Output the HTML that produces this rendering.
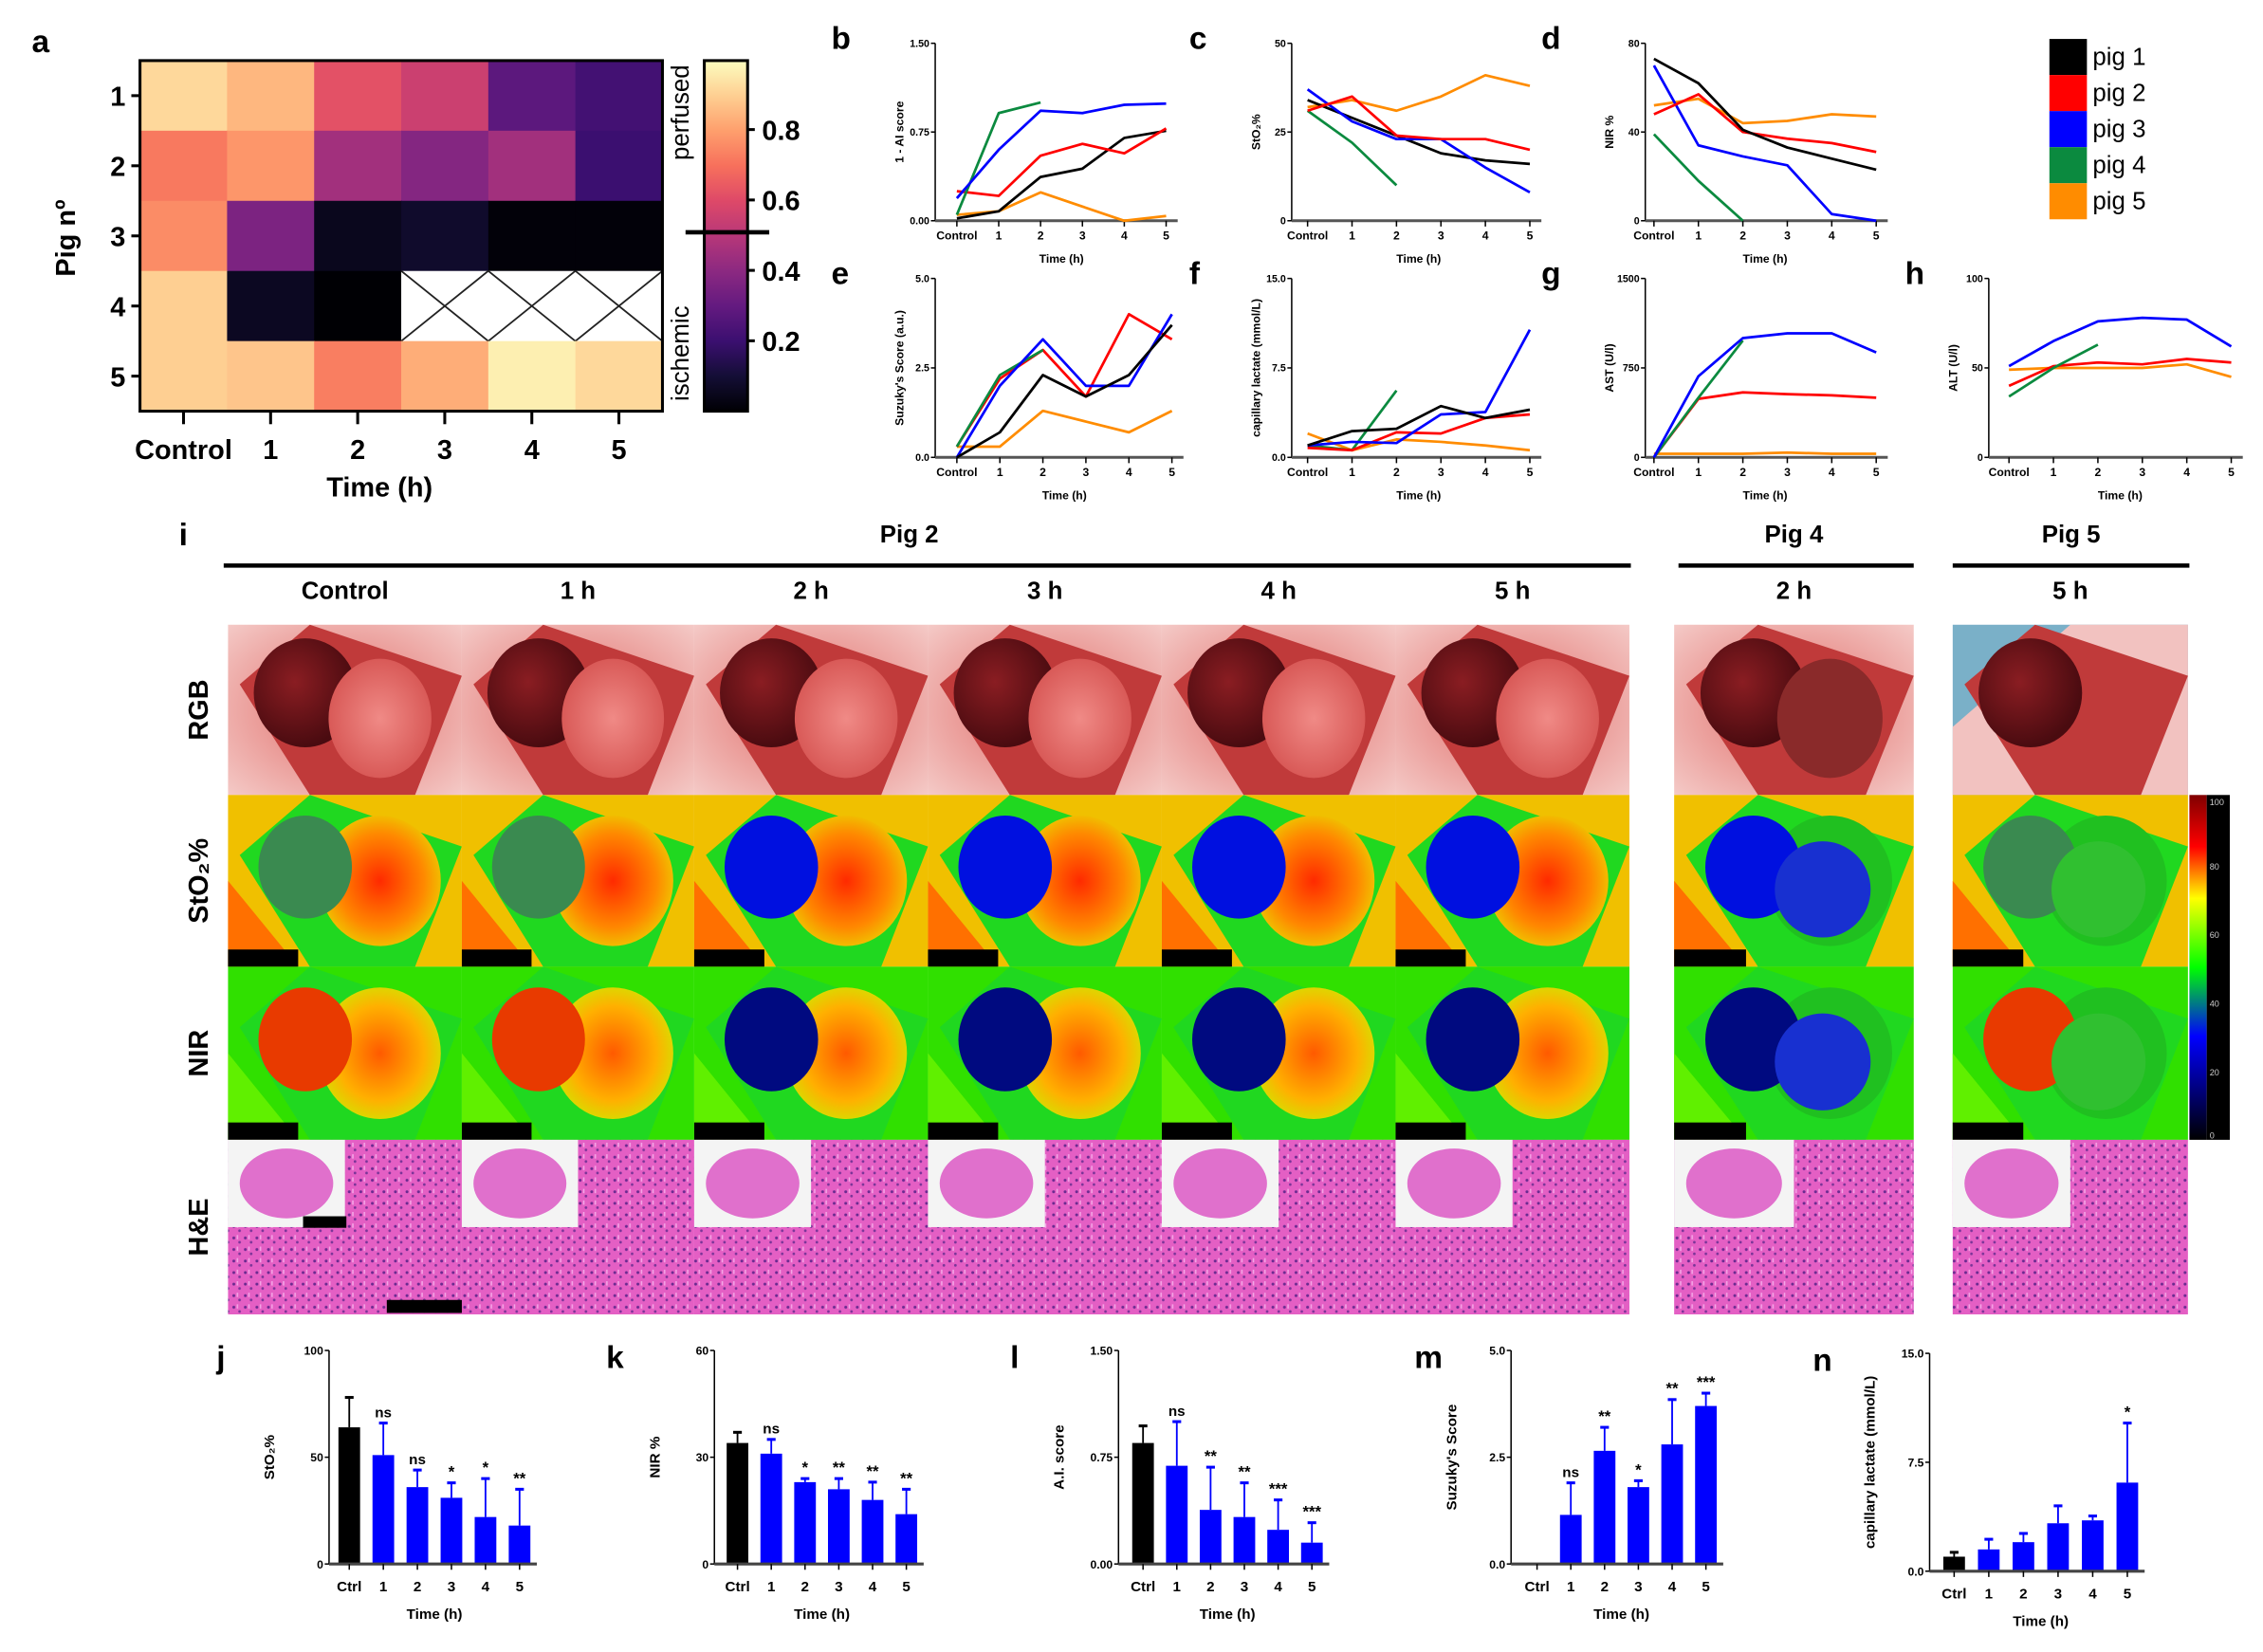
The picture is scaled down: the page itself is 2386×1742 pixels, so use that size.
<!DOCTYPE html>
<html><head><meta charset="utf-8"><style>
html,body{margin:0;padding:0;background:#fff;}
svg{display:block;font-family:"Liberation Sans",sans-serif;}
</style></head><body>
<svg id="fig" width="2386" height="1742" viewBox="0 0 1568 1145" preserveAspectRatio="none" xmlns="http://www.w3.org/2000/svg">
<defs>
<linearGradient id="magma" x1="0" y1="1" x2="0" y2="0">
<stop offset="0" stop-color="#000004"/><stop offset="0.1" stop-color="#140e36"/><stop offset="0.2" stop-color="#3b0f70"/><stop offset="0.3" stop-color="#641a80"/><stop offset="0.4" stop-color="#8c2981"/><stop offset="0.5" stop-color="#b73779"/><stop offset="0.6" stop-color="#de4968"/><stop offset="0.7" stop-color="#f7705c"/><stop offset="0.8" stop-color="#fe9f6d"/><stop offset="0.9" stop-color="#fecf92"/><stop offset="1" stop-color="#fcfdbf"/>
</linearGradient>
<linearGradient id="jet" x1="0" y1="1" x2="0" y2="0">
<stop offset="0" stop-color="#000000"/><stop offset="0.15" stop-color="#000080"/><stop offset="0.3" stop-color="#0000ff"/><stop offset="0.5" stop-color="#00ff00"/><stop offset="0.7" stop-color="#ffff00"/><stop offset="0.85" stop-color="#ff0000"/><stop offset="1" stop-color="#800000"/>
</linearGradient>
<radialGradient id="rgbBg" cx="0.5" cy="0.5" r="0.7"><stop offset="0" stop-color="#e06a66"/><stop offset="1" stop-color="#f4c9c6"/></radialGradient>
<radialGradient id="liver" cx="0.4" cy="0.4" r="0.6"><stop offset="0" stop-color="#8a1d22"/><stop offset="1" stop-color="#4a0b10"/></radialGradient>
<radialGradient id="bowel" cx="0.5" cy="0.5" r="0.6"><stop offset="0" stop-color="#f08a86"/><stop offset="1" stop-color="#d4504e"/></radialGradient>
<radialGradient id="stoRed" cx="0.5" cy="0.5" r="0.6"><stop offset="0" stop-color="#ff2a00"/><stop offset="0.6" stop-color="#ff8800"/><stop offset="1" stop-color="#e8e000"/></radialGradient>
<radialGradient id="nirRed" cx="0.5" cy="0.5" r="0.6"><stop offset="0" stop-color="#ff5a00"/><stop offset="0.6" stop-color="#ffb000"/><stop offset="1" stop-color="#c8f000"/></radialGradient>
<pattern id="he" width="8" height="8" patternUnits="userSpaceOnUse"><rect width="8" height="8" fill="#e45fc4"/><circle cx="2" cy="2" r="1" fill="#6a2a90"/><circle cx="6" cy="5" r="0.9" fill="#7a3498"/><rect x="4" y="0" width="1" height="3" fill="#f5a8e8"/></pattern>
</defs>
<g id="panelA"></g>
<g id="lines"></g>
<g id="panelI"></g>
<g id="bars"></g>
</svg>
<script>
// ---------- heatmap data ----------
const heatRows = ["1","2","3","4","5"];
const heatCols = ["Control","1","2","3","4","5"];
const heatRow1 = [0.92,0.85,0.62,0.55,0.28,0.22];
const heatRow2 = [0.72,0.78,0.45,0.38,0.45,0.20];
const heatRow3 = [0.76,0.36,0.05,0.08,0.01,0.01];
const heatRow4 = [0.90,0.06,0.00,null,null,null];
const heatRow5 = [0.90,0.88,0.73,0.83,0.97,0.92];
const cbTicks = [0.2,0.4,0.6,0.8];

// ---------- line chart data ----------
const timeCats = ["Control","1","2","3","4","5"];
const pigNames = ["pig 1","pig 2","pig 3","pig 4","pig 5"];
const pigColors = ["#000000","#ff0000","#0000ff","#0b8a3f","#ff8c00"];
const bPig1=[0.02,0.08,0.37,0.44,0.70,0.76], bPig2=[0.25,0.21,0.55,0.65,0.57,0.78], bPig3=[0.19,0.60,0.93,0.91,0.98,0.99], bPig4=[0.05,0.91,1.00], bPig5=[0.05,0.08,0.24,0.12,0.00,0.04];
const cPig1=[34,29,24,19,17,16], cPig2=[31,35,24,23,23,20], cPig3=[37,28,23,23,15,8], cPig4=[31,22,10], cPig5=[32,34,31,35,41,38];
const dPig1=[73,62,41,33,28,23], dPig2=[48,57,40,37,35,31], dPig3=[70,34,29,25,3,0], dPig4=[39,18,0], dPig5=[52,55,44,45,48,47];
const ePig1=[0,0.7,2.3,1.7,2.3,3.7], ePig2=[0.3,2.2,3.0,1.7,4.0,3.3], ePig3=[0,2.0,3.3,2.0,2.0,4.0], ePig4=[0.3,2.3,3.0], ePig5=[0.3,0.3,1.3,1.0,0.7,1.3];
const fPig1=[1.0,2.2,2.4,4.3,3.3,4.0], fPig2=[0.8,0.6,2.1,2.0,3.3,3.6], fPig3=[1.0,1.3,1.2,3.6,3.8,10.7], fPig4=[1.0,0.6,5.6], fPig5=[2.0,0.6,1.5,1.3,1.0,0.6];
const gPig2=[0,490,545,530,520,500], gPig3=[0,680,1000,1040,1040,880], gPig4=[0,500,980], gPig5=[30,30,30,40,30,30];
const hPig2=[40,51,53,52,55,53], hPig3=[51,65,76,78,77,62], hPig4=[34,50,63], hPig5=[49,50,50,50,52,45];
const bTicks=["0.00","0.75","1.50"], cTicks=["0","25","50"], dTicks=["0","40","80"], eTicks=["0.0","2.5","5.0"], fTicks=["0.0","7.5","15.0"], gTicks=["0","750","1500"], hTicks=["0","50","100"];

// ---------- bar chart data ----------
const barCats = ["Ctrl","1","2","3","4","5"];
const jMean=[64,51,36,31,22,18], jErr=[78,66,44,38,40,35], jSig=["","ns","ns","*","*","**"];
const kMean=[34,31,23,21,18,14], kErr=[37,35,24,24,23,21], kSig=["","ns","*","**","**","**"];
const lMean=[0.85,0.69,0.38,0.33,0.24,0.15], lErr=[0.97,1.00,0.68,0.57,0.45,0.29], lSig=["","ns","**","**","***","***"];
const mMean=[null,1.15,2.65,1.8,2.8,3.7], mErr=[null,1.9,3.2,1.95,3.85,4.0], mSig=["","ns","**","*","**","***"];
const nMean=[1.0,1.5,2.0,3.3,3.5,6.1], nErr=[1.3,2.2,2.6,4.5,3.8,10.2], nSig=["","","","","","*"];
const jTicks=["0","50","100"], kTicks=["0","30","60"], lTicks=["0.00","0.75","1.50"], mTicks=["0.0","2.5","5.0"], nTicks=["0.0","7.5","15.0"];

const NS="http://www.w3.org/2000/svg";
function mk(parent,tag,attrs,text){const e=document.createElementNS(NS,tag);for(const k in attrs)e.setAttribute(k,attrs[k]);if(text!==undefined)e.textContent=text;parent.appendChild(e);return e;}

const magStops=[[0,"#000004"],[0.1,"#140e36"],[0.2,"#3b0f70"],[0.3,"#641a80"],[0.4,"#8c2981"],[0.5,"#b73779"],[0.6,"#de4968"],[0.7,"#f7705c"],[0.8,"#fe9f6d"],[0.9,"#fecf92"],[1,"#fcfdbf"]];
function hx(c){return [1,3,5].map(i=>parseInt(c.substr(i,2),16));}
function magma(v){v=Math.max(0,Math.min(1,v));for(let i=0;i<magStops.length-1;i++){const[a,ca]=magStops[i],[b,cb]=magStops[i+1];if(v<=b){const t=(v-a)/(b-a),A=hx(ca),B=hx(cb);return "rgb("+A.map((x,j)=>Math.round(x+(B[j]-x)*t)).join(",")+")";}}return "#fcfdbf";}

// ---------- Panel a ----------
(function(){
 const g=document.getElementById('panelA');
 let t=mk(g,'text',{x:22,y:36,'font-size':22,'font-weight':'bold'},'a');
 
 const X0=97,X1=459,Y0=42,Y1=285,cw=(X1-X0)/6,rh=(Y1-Y0)/5;
 const rows=[heatRow1,heatRow2,heatRow3,heatRow4,heatRow5];
 rows.forEach((r,ri)=>{r.forEach((v,ci)=>{
   const x=X0+ci*cw,y=Y0+ri*rh;
   if(v===null){
     const c=mk(g,'rect',{x:x,y:y,width:cw,height:rh,fill:'#fff'});
     
     mk(g,'path',{d:`M${x} ${y}L${x+cw} ${y+rh}M${x+cw} ${y}L${x} ${y+rh}`,stroke:'#222','stroke-width':1.2,fill:'none'});
   } else {
     const c=mk(g,'rect',{x:x,y:y,width:cw+0.5,height:rh+0.5,fill:magma(v)});
     
   }
 });});
 mk(g,'rect',{x:X0,y:Y0,width:X1-X0,height:Y1-Y0,fill:'none',stroke:'#000','stroke-width':2});
 heatRows.forEach((l,i)=>{const y=Y0+(i+0.5)*rh;mk(g,'line',{x1:X0-6,x2:X0,y1:y,y2:y,stroke:'#000','stroke-width':2});
  const tt=mk(g,'text',{x:X0-10,y:y+7,'font-size':19,'font-weight':'bold','text-anchor':'end'},l);});
 heatCols.forEach((l,i)=>{const x=X0+(i+0.5)*cw;mk(g,'line',{x1:x,x2:x,y1:Y1,y2:Y1+9,stroke:'#000','stroke-width':2});
  const tt=mk(g,'text',{x:x,y:318,'font-size':19,'font-weight':'bold','text-anchor':'middle'},l);});
 t=mk(g,'text',{x:263,y:344,'font-size':19,'font-weight':'bold','text-anchor':'middle'},'Time (h)');
 t=mk(g,'text',{x:0,y:0,'font-size':19,'font-weight':'bold','text-anchor':'middle',transform:'translate(52,165) rotate(-90)'},'Pig nº');
 // colorbar
 const cb=mk(g,'rect',{x:488,y:42,width:30,height:243,fill:'url(#magma)',stroke:'#000','stroke-width':2});
 
 cbTicks.forEach(v=>{const y=285-v*244;mk(g,'line',{x1:518,x2:523,y1:y,y2:y,stroke:'#000','stroke-width':2});
  const tt=mk(g,'text',{x:528,y:y+7,'font-size':19,'font-weight':'bold'},String(v));});
 mk(g,'line',{x1:475,x2:533,y1:161,y2:161,stroke:'#000','stroke-width':3});
 t=mk(g,'text',{x:0,y:0,'font-size':17,'text-anchor':'middle',transform:'translate(477,78) rotate(-90)'},'perfused');
 t=mk(g,'text',{x:0,y:0,'font-size':17,'text-anchor':'middle',transform:'translate(477,245) rotate(-90)'},'ischemic');
})();

// ---------- line charts ----------
function lineChart(label,lx,ax,c0,step,yTop,yBot,ymax,ticks,ytitle,series){
 const g=mk(document.getElementById('lines'),'g',{});
 
 const yS=v=>yBot-(v/ymax)*(yBot-yTop), xS=i=>c0+i*step;
 let t=mk(g,'text',{x:lx,y:yTop+4,'font-size':22,'font-weight':'bold'},label);
 const xEnd=xS(5)+8;
 mk(g,'line',{x1:ax,x2:ax,y1:yTop,y2:yBot,stroke:'#000','stroke-width':1});
 mk(g,'line',{x1:ax,x2:xEnd,y1:yBot,y2:yBot,stroke:'#555','stroke-width':2});
 ticks.forEach((l,i)=>{const y=yS(ymax*i/(ticks.length-1));mk(g,'line',{x1:ax-3,x2:ax,y1:y,y2:y,stroke:'#000','stroke-width':1});
  const tt=mk(g,'text',{x:ax-4,y:y+2.5,'font-size':7,'text-anchor':'end','font-weight':'bold'},l);});
 timeCats.forEach((c,i)=>{const x=xS(i);mk(g,'line',{x1:x,x2:x,y1:yBot,y2:yBot+4,stroke:'#000','stroke-width':1});
  const tt=mk(g,'text',{x:x,y:yBot+13,'font-size':8,'text-anchor':'middle','font-weight':'bold'},c);});
 t=mk(g,'text',{x:(xS(0)+xS(5))/2,y:yBot+29,'font-size':8,'text-anchor':'middle','font-weight':'bold'},'Time (h)');
 t=mk(g,'text',{x:0,y:0,'font-size':8,'text-anchor':'middle','font-weight':'bold',transform:`translate(${ax-22},${(yTop+yBot)/2}) rotate(-90)`},ytitle);
 series.forEach(([arr,ci])=>{if(!arr)return;const pts=arr.map((v,i)=>xS(i)+','+yS(v)).join(' ');
  const p=mk(g,'polyline',{points:pts,fill:'none',stroke:pigColors[ci],'stroke-width':1.8,'stroke-linejoin':'round'});
  });
}
lineChart('b',576,648,663,29,30,153,1.5,bTicks,'1 - AI score',[[bPig5,4],[bPig1,0],[bPig2,1],[bPig4,3],[bPig3,2]]);
lineChart('c',824,895,906,30.8,30,153,50,cTicks,'StO₂%',[[cPig5,4],[cPig4,3],[cPig1,0],[cPig3,2],[cPig2,1]]);
lineChart('d',1068,1140,1146,30.8,30,153,80,dTicks,'NIR %',[[dPig5,4],[dPig4,3],[dPig3,2],[dPig2,1],[dPig1,0]]);
lineChart('e',576,648,663,29.8,193,317,5,eTicks,"Suzuky's Score (a.u.)",[[ePig5,4],[ePig2,1],[ePig4,3],[ePig3,2],[ePig1,0]]);
lineChart('f',824,895,906,30.8,193,317,15,fTicks,'capillary lactate (mmol/L)',[[fPig5,4],[fPig4,3],[fPig2,1],[fPig3,2],[fPig1,0]]);
lineChart('g',1068,1140,1146,30.8,193,317,1500,gTicks,'AST (U/l)',[[gPig5,4],[gPig2,1],[gPig4,3],[gPig3,2]]);
lineChart('h',1320,1378,1392,30.8,193,317,100,hTicks,'ALT (U/l)',[[hPig5,4],[hPig2,1],[hPig4,3],[hPig3,2]]);
// legend
(function(){const g=mk(document.getElementById('lines'),'g',{});
 pigNames.forEach((n,i)=>{const y=27+i*25;mk(g,'rect',{x:1420,y:y,width:26,height:25,fill:pigColors[i]});
  const t=mk(g,'text',{x:1450,y:y+18,'font-size':17},n);});})();

// ---------- panel i ----------
(function(){
 const g=document.getElementById('panelI');
 const T=(x,y,s,txt,name,extra)=>{const a=Object.assign({x:x,y:y,'font-size':s,'font-weight':'bold','text-anchor':'middle'},extra||{});const t=mk(g,'text',a,txt);return t;};
 T(127,378,22,'i','panel-label-i');
 T(630,376,17,'Pig 2','group-label-pig2');T(1243,376,17,'Pig 4','group-label-pig4');T(1435,376,17,'Pig 5','group-label-pig5');
 mk(g,'line',{x1:155,x2:1130,y1:392,y2:392,stroke:'#000','stroke-width':3});
 mk(g,'line',{x1:1163,x2:1326,y1:392,y2:392,stroke:'#000','stroke-width':3});
 mk(g,'line',{x1:1353,x2:1517,y1:392,y2:392,stroke:'#000','stroke-width':3});
 const cols=[[158,320,'Control'],[320,481,'1 h'],[481,643,'2 h'],[643,805,'3 h'],[805,967,'4 h'],[967,1129,'5 h'],[1160,1326,'2 h'],[1353,1516,'5 h']];
 const rows=[[433,551,'RGB'],[551,670,'StO₂%'],[670,790,'NIR'],[790,911,'H&E']];
 const blue=[0.1,0.3,0.6,0.8,0.85,0.85,0.9,0.05];
 cols.forEach(([x0,x1,lab],ci)=>{T((x0+x1)/2,415,17,lab,'column-header');
  const w=x1-x0;
  rows.forEach(([y0,y1,rl],ri)=>{const h=y1-y0;const cg=mk(g,'g',{});
   
   const cx=x0+w*0.5,cy=y0+h*0.5;
   const dia=`M${x0+w*0.05} ${y0+h*0.35}L${x0+w*0.35} ${y0}L${x1} ${y0+h*0.3}L${x0+w*0.8} ${y1}L${x0+w*0.35} ${y1}Z`;
   if(ri===0){mk(cg,'rect',{x:x0,y:y0,width:w,height:h,fill:ci===7?'#7ab0c8':'url(#rgbBg)'});
    if(ci===7)mk(cg,'path',{d:`M${x0} ${y0+h*0.6}L${x0+w*0.5} ${y0}L${x1} ${y0}L${x1} ${y1}L${x0} ${y1}Z`,fill:'#f2c2c0'});
    mk(cg,'path',{d:dia,fill:'#c03a3a'});
    mk(cg,'ellipse',{cx:x0+w*0.33,cy:y0+h*0.4,rx:w*0.22,ry:h*0.32,fill:'url(#liver)'});
    if(ci!==7)mk(cg,'ellipse',{cx:x0+w*0.65,cy:y0+h*0.55,rx:w*0.22,ry:h*0.35,fill:ci===6?'#8a2a2a':'url(#bowel)'});
   } else if(ri===1||ri===2){
    mk(cg,'rect',{x:x0,y:y0,width:w,height:h,fill:ri===1?'#f0c000':'#30e000'});
    mk(cg,'path',{d:`M${x0} ${y0+h*0.5}L${x0+w*0.3} ${y1}L${x0} ${y1}Z`,fill:ri===1?'#ff7000':'#60f000'});
    mk(cg,'rect',{x:x0,y:y1-h*0.1,width:w*0.3,height:h*0.1,fill:'#000'});
    mk(cg,'path',{d:dia,fill:'#20d820'});
    const b=blue[ci];const inner=ci>=6?'#20c020':(ri===1?'url(#stoRed)':'url(#nirRed)');
    mk(cg,'ellipse',{cx:x0+w*0.65,cy:y0+h*0.5,rx:w*0.26,ry:h*0.38,fill:inner});
    const lc=b>0.5?(ri===1?'#0010e0':'#000a80'):(ri===1?'#3a8a50':'#e83a00');
    mk(cg,'ellipse',{cx:x0+w*0.33,cy:y0+h*0.42,rx:w*0.2,ry:h*0.3,fill:lc});
    if(ci>=6)mk(cg,'ellipse',{cx:x0+w*0.62,cy:y0+h*0.55,rx:w*0.2,ry:h*0.28,fill:ci===6?'#1830d0':'#30c030'});
   } else {
    mk(cg,'rect',{x:x0,y:y0,width:w,height:h,fill:'url(#he)'});
    mk(cg,'rect',{x:x0,y:y0,width:w*0.5,height:h*0.5,fill:'#f4f4f4'});
    mk(cg,'ellipse',{cx:x0+w*0.25,cy:y0+h*0.25,rx:w*0.2,ry:h*0.2,fill:'#e070cc'});
   }
  });
 });
 mk(g,'rect',{x:210,y:843,width:30,height:8,fill:'#000'});
 mk(g,'rect',{x:268,y:901,width:52,height:9,fill:'#000'});
 rows.forEach(([y0,y1,rl])=>T(0,0,19,rl,'row-label-'+rl.replace('₂','2').replace('%','').replace('&','').toLowerCase(),{transform:`translate(144,${(y0+y1)/2}) rotate(-90)`}));
 const cb=mk(g,'rect',{x:1517,y:551,width:12,height:239,fill:'url(#jet)'});
 mk(g,'rect',{x:1529,y:551,width:16,height:239,fill:'#000'});
 ['0','20','40','60','80','100'].forEach((l,i)=>{const t=mk(g,'text',{x:1531,y:790-i*47.6+(i===0?-1:i===5?6:3),'font-size':6,fill:'#ccc'},l);});
})();

// ---------- bar charts ----------
function barChart(label,lx,ax,c0,step,yTop,yBot,ymax,ticks,ytitle,mean,err,sig){
 const g=mk(document.getElementById('bars'),'g',{});
 const yS=v=>yBot-(v/ymax)*(yBot-yTop),xS=i=>c0+i*step;
 let t=mk(g,'text',{x:lx,y:yTop+12,'font-size':22,'font-weight':'bold'},label);
 mean.forEach((v,i)=>{if(v===null)return;const x=xS(i),col=i===0?'#000':'#0000ff';
  const e=yS(err[i]);mk(g,'line',{x1:x,x2:x,y1:e,y2:yS(v),stroke:col,'stroke-width':1.2});mk(g,'line',{x1:x-3,x2:x+3,y1:e,y2:e,stroke:col,'stroke-width':2});
  const b=mk(g,'rect',{x:x-7.5,y:yS(v),width:15,height:yBot-yS(v),fill:col});
  if(sig[i]){const s=mk(g,'text',{x:x,y:e-4,'font-size':sig[i]==='ns'?10:11,'font-weight':'bold','text-anchor':'middle'},sig[i]);}
 });
 mk(g,'line',{x1:ax,x2:ax,y1:yTop,y2:yBot,stroke:'#000','stroke-width':1});
 mk(g,'line',{x1:ax,x2:xS(5)+12,y1:yBot,y2:yBot,stroke:'#444','stroke-width':2});
 ticks.forEach((l,i)=>{const y=yS(ymax*i/(ticks.length-1));mk(g,'line',{x1:ax-3,x2:ax,y1:y,y2:y,stroke:'#000'});
  const tt=mk(g,'text',{x:ax-4,y:y+3,'font-size':8,'text-anchor':'end','font-weight':'bold'},l);});
 barCats.forEach((c,i)=>{const x=xS(i);mk(g,'line',{x1:x,x2:x,y1:yBot,y2:yBot+4,stroke:'#000'});
  const tt=mk(g,'text',{x:x,y:yBot+19,'font-size':10,'text-anchor':'middle','font-weight':'bold'},c);});
 t=mk(g,'text',{x:(xS(0)+xS(5))/2,y:yBot+38,'font-size':10,'text-anchor':'middle','font-weight':'bold'},'Time (h)');
 t=mk(g,'text',{x:0,y:0,'font-size':10,'text-anchor':'middle','font-weight':'bold',transform:`translate(${ax-38},${(yTop+yBot)/2}) rotate(-90)`},ytitle);
}
barChart('j',150,228,242,23.6,936,1084,100,jTicks,'StO₂%',jMean,jErr,jSig);
barChart('k',420,495,511,23.4,936,1084,60,kTicks,'NIR %',kMean,kErr,kSig);
barChart('l',700,775,792,23.4,936,1084,1.5,lTicks,'A.I. score',lMean,lErr,lSig);
barChart('m',980,1047,1065,23.4,936,1084,5,mTicks,"Suzuky's Score",mMean,mErr,mSig);
barChart('n',1256,1337,1354,24,938,1089,15,nTicks,'capillary lactate (mmol/L)',nMean,nErr,nSig);
</script>
</body></html>
